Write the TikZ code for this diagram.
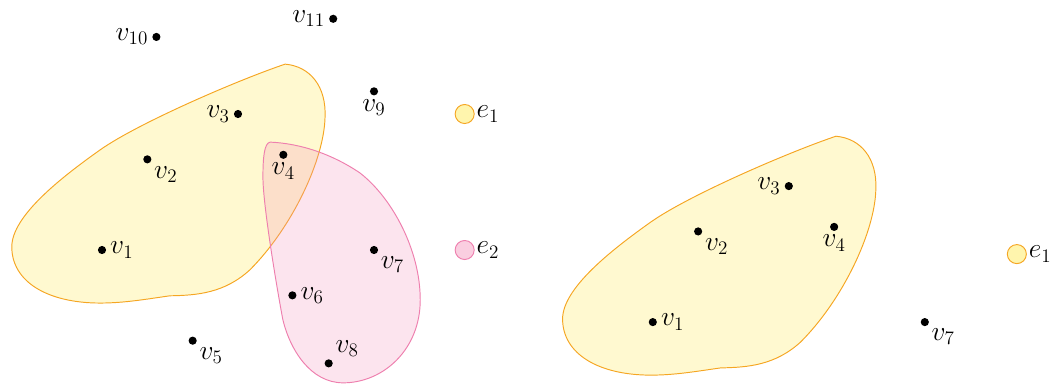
\documentclass[tikz,border=0pt]{standalone}
\usepackage{amsmath}
\usetikzlibrary{positioning}
\definecolor{hgYellow}{HTML}{FFEE77}
\definecolor{hgOrange}{HTML}{F5A623}
\definecolor{hgPink}{HTML}{F393BB}
\definecolor{hgRose}{HTML}{EE7FAE}
\tikzset{
  % thin outlines, filled hyperedges are see-through so overlaps show
  every picture/.append style = {line width=0.6pt},
  every label/.append style   = {font=\LARGE, inner sep=2pt},
  vtx/.style     = {circle, fill=black, inner sep=0pt, minimum size=1.8mm},
  edgeA/.style   = {draw=hgOrange, fill=hgYellow, fill opacity=0.35},
  edgeB/.style   = {draw=hgRose, fill=hgPink, fill opacity=0.25},
  keyA/.style    = {circle, inner sep=0pt, minimum size=4.2mm, draw=hgOrange,
                    fill=hgYellow, fill opacity=0.6, text opacity=1},
  keyB/.style    = {circle, inner sep=0pt, minimum size=4.2mm, draw=hgRose,
                    fill=hgPink, fill opacity=0.45, text opacity=1},
  keylbl/.style  = {label={[inner sep=1pt]right:$#1$}},
}
% outline of e1, reused in both drawings
\newcommand{\edgeAoutline}{(4.04,4.10)
    .. controls (4.6,4.05) and (4.95,3.6) .. (4.92,2.93)
    .. controls (4.9,2.0) and (4.2,0.5) .. (3.26,-0.44)
    .. controls (2.7,-0.95) and (2.1,-1.0) .. (1.50,-1.01)
    .. controls (1.0,-1.08) and (0.5,-1.17) .. (-0.04,-1.17)
    .. controls (-1.2,-1.17) and (-1.99,-0.7) .. (-1.99,0.07)
    .. controls (-1.99,0.75) and (-0.9,1.6) .. (-0.04,2.21)
    .. controls (0.8,2.8) and (3.0,3.75) .. cycle}

\begin{document}
\begin{tikzpicture}
  \useasboundingbox (-2.25,-2.98) rectangle (21.0,5.515);
  % hyperedge e1
  \draw[edgeA] \edgeAoutline;
  % hyperedge e2
  \draw[edgeB] (3.71,2.38)
    .. controls (4.4,2.35) and (5.1,2.1) .. (5.69,1.70)
    .. controls (6.4,1.15) and (7.02,0.0) .. (7.02,-1.10)
    .. controls (7.02,-2.2) and (6.2,-2.93) .. (5.32,-2.93)
    .. controls (4.6,-2.93) and (4.15,-2.2) .. (3.99,-1.54)
    .. controls (3.85,-0.8) and (3.55,1.0) .. (3.55,1.61)
    .. controls (3.55,2.05) and (3.58,2.36) .. cycle;
  % vertices
  \node[vtx, label=right:$v_1$]       (v1)  at (0,0)     {};
  \node[vtx, label=below right:$v_2$] (v2)  at (1,2)     {};
  \node[vtx, label=left:$v_3$]        (v3)  at (3,3)     {};
  \node[vtx, label=below:$v_4$]       (v4)  at (4,2.1)   {};
  \node[vtx, label=below right:$v_5$] (v5)  at (2,-2)    {};
  \node[vtx, label=right:$v_6$]       (v6)  at (4.2,-1)  {};
  \node[vtx, label=below right:$v_7$] (v7)  at (6,0)     {};
  \node[vtx, label=above right:$v_8$] (v8)  at (5,-2.5)  {};
  \node[vtx, label=below:$v_9$]       (v9)  at (6,3.5)   {};
  \node[vtx, label=left:$v_{10}$]     (v10) at (1.2,4.7) {};
  \node[vtx, label=left:$v_{11}$]     (v11) at (5.1,5.1) {};
  % key
  \node[keyA, keylbl=e_1] (e1) at (8,3) {};
  \node[keyB, keylbl=e_2] (e2) at (8,0) {};

  % the sub-hypergraph on e1 and v7
  \begin{scope}[shift={(12.15,-1.59)}]
    \draw[edgeA] \edgeAoutline;
    \node[vtx, label=right:$v_1$]       (sv1) at (0,0)   {};
    \node[vtx, label=below right:$v_2$] (sv2) at (1,2)   {};
    \node[vtx, label=left:$v_3$]        (sv3) at (3,3)   {};
    \node[vtx, label=below:$v_4$]       (sv4) at (4,2.1) {};
    \node[vtx, label=below right:$v_7$] (sv7) at (6,0)   {};
    \node[keyA, keylbl=e_1] (se1) at (8.03,1.5) {};
  \end{scope}
\end{tikzpicture}
\end{document}
